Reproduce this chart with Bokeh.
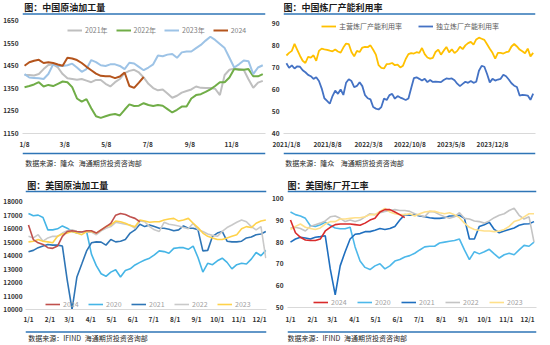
from bokeh.plotting import figure
from bokeh.models import Range1d, FixedTicker, Legend, LegendItem, Label, Span
from bokeh.layouts import column, row
from bokeh.embed import file_html
from bokeh.resources import INLINE
import numpy as np
import pandas as pd

# ---------------- data ----------------
# China crude runs (weekly, 10k t) by year
tl_2021 = [1409,1409,1407,1413,1435,1453,1456,1442,1413,1394,1391,1388,1391,1384,1377,1387,1387,1370,1358,1377,
           1391,1417,1427,1432,1420,1398,1370,1351,1341,1345,1327,1308,1317,1331,1338,1345,1358,1352,1351,1351,
           1348,1320,1409,1432,1437,1435,1432,1390,1352,1375,1383]
tl_2022 = [1355,1360,1367,1377,1358,1365,1360,1370,1380,1377,1355,1305,1291,1302,1262,1226,1219,1226,1233,1236,
           1230,1255,1279,1272,1273,1284,1276,1272,1276,1273,1258,1243,1255,1269,1269,1305,1320,1324,1334,1345,
           1360,1377,1377,1398,1435,1432,1432,1435,1403,1403,1413]
tl_2023 = [1413,1398,1396,1394,1391,1413,1456,1449,1449,1452,1459,1442,1423,1435,1475,1466,1452,1449,1456,1456,
           1449,1435,1463,1460,1445,1430,1442,1456,1495,1492,1499,1502,1485,1509,1513,1513,1528,1542,1561,1578,
           1564,1546,1528,1485,1442,1456,1473,1470,1413,1442,1452]
tl_2024 = [1450,1465,1472,1476,1462,1465,1462,1455,1450,1485,1482,1475,1462,1445,1430,1415,1405,1403,1403,1395,
           1402,1420,1360,1352,1375,1400]
tl_tick_days = [7, 66, 127, 188, 250, 311]
tl_tick_labels = ["1/8", "3/8", "5/8", "7/8", "9/8", "11/8"]

# China refinery utilisation (%), biweekly from 2021-01-08
tr_start = "2021-01-08"
tr_main = [75.4,76.6,77.5,80.7,78.0,75.3,73.0,72.0,74.8,74.4,75.5,73.0,77.5,78.5,78.2,78.0,77.6,77.3,78.1,77.2,
           76.7,79.0,80.8,80.6,77.0,75.0,77.5,77.0,79.0,79.3,79.2,80.0,78.0,75.8,71.0,69.8,69.5,71.5,71.6,72.0,
           71.0,71.3,70.0,70.8,73.8,76.0,76.5,76.3,76.9,76.6,78.8,76.0,74.5,74.0,74.3,77.0,78.1,75.8,77.6,79.3,
           76.8,78.2,76.5,77.5,79.4,78.3,80.0,81.0,81.6,80.3,82.7,83.5,83.0,82.5,80.5,78.5,76.6,74.0,76.6,76.6,
           76.3,76.9,77.2,79.5,80.6,79.5,78.1,77.3,76.4,78.5,75.0,76.6]
tr_ind = [71.9,69.8,70.9,69.5,70.5,70.3,68.7,67.8,66.6,66.0,64.8,65.5,63.8,60.5,56.0,54.8,53.5,57.0,59.5,58.0,
          60.0,57.5,63.0,64.6,63.8,61.0,61.6,63.3,61.5,57.4,56.0,55.5,52.0,51.3,50.9,52.0,55.9,55.2,57.4,58.0,
          55.8,57.0,56.3,55.8,55.2,55.9,60.5,65.1,65.5,64.8,64.0,64.8,63.3,64.3,63.4,63.5,63.4,63.3,64.3,65.0,
          64.8,65.0,64.2,62.6,61.5,62.5,63.5,63.0,63.8,63.0,63.5,68.5,70.7,70.3,67.0,63.2,64.8,64.0,64.5,64.8,
          66.7,66.0,64.5,62.8,61.7,61.1,57.2,57.5,57.4,57.2,55.3,58.1]
tr_tick_dates = ["2021-01-08", "2021-08-08", "2022-03-08", "2022-10-08", "2023-05-08", "2023-12-08"]
tr_tick_labels = ["2021/1/8", "2021/8/8", "2022/3/8", "2022/10/8", "2023/5/8", "2023/12/8"]

# US crude runs (kb/d), weekly by year
bl_2020 = [17108,16940,16990,16820,15900,15900,15975,16190,16025,15780,15660,15735,15780,14100,13250,12650,12460,12770,12940,12410,
           12890,13010,13300,13490,13660,13800,14050,14340,14290,14170,14530,14580,14580,14460,14700,13850,12770,13420,13320,13610,
           13800,13490,13010,13320,13420,13370,13730,14220,13980,14380]
bl_2021 = [14270,14380,14580,14700,14820,14770,14770,14700,12170,10000,12410,13370,14340,14940,15010,14990,14770,15180,15010,15060,
           15180,15660,15900,16310,16140,16260,16140,16020,16020,15950,15830,15900,16190,16020,16020,15900,14340,14380,15420,15660,
           15780,15060,15010,15010,15060,15300,15370,15540,15590,15780]
bl_2022 = [15420,15300,15540,15060,15300,15420,15420,15660,15830,15900,15780,15735,15735,15735,15540,15830,16020,16140,16460,16390,
           16310,16260,16020,16550,16500,16140,15900,15780,16460,16310,16260,16190,16070,15975,16390,15900,15780,15590,15490,15420,
           15780,16070,16260,16460,16630,16500,16140,15900,16140,13800]
bl_2023 = [15010,15060,15180,15060,15010,14940,15420,15590,15660,15780,15660,15540,15780,15780,15660,15900,16140,16260,16550,16500,
           16390,16220,16140,16630,16550,16460,16500,16500,16630,16700,16750,16550,16630,16750,16390,16070,15660,15420,15300,15180,
           15180,15300,15420,15540,15975,16140,16070,16390,16550,16630]
bl_2024 = [16260,15180,14940,14820,14580,14530,14700,15420,15780,15830,15780,15735,15830,15830,15660,15900,16140,16380,16990,17110,
           17040,16870,16750,16500]

# US refinery utilisation (%), weekly by year
br_2020 = [93.8,92.6,92.0,90.9,87.5,87.2,88.0,89.1,87.7,86.5,86.1,86.1,86.8,77.8,71.3,68.4,67.4,69.1,70.1,67.7,
           69.1,71.3,72.0,73.2,73.8,74.9,76.4,77.8,78.1,78.1,79.6,80.0,80.4,80.7,81.4,76.4,72.0,75.6,74.6,75.6,
           76.7,74.6,72.7,74.2,74.9,74.2,76.4,78.5,78.1,80.0]
br_2021 = [80.0,81.4,82.2,81.9,81.4,82.2,82.5,82.9,67.7,55.8,69.1,75.6,81.4,83.6,83.9,84.8,84.8,85.4,86.2,85.8,
           86.2,87.2,90.1,92.6,92.3,92.6,92.0,91.6,91.2,90.9,90.9,91.2,92.0,92.0,92.3,90.9,81.4,81.4,87.2,88.0,
           89.1,85.8,84.3,85.1,85.8,86.5,87.7,88.3,88.4,89.4]
br_2022 = [86.5,86.8,86.2,85.1,87.2,88.0,88.7,89.7,91.6,92.0,90.9,89.4,90.1,89.4,90.1,91.6,93.0,92.6,93.5,94.1,
           94.5,94.9,94.5,94.5,94.1,93.0,92.3,91.6,94.1,93.8,92.6,91.6,90.9,91.6,93.5,90.9,90.6,89.7,89.4,88.7,
           89.7,91.2,92.3,93.0,94.5,95.5,92.3,90.6,91.6,80.0]
br_2023 = [85.8,87.2,88.3,86.8,86.2,85.8,86.5,88.3,89.4,89.4,90.6,90.6,90.9,91.2,91.2,91.6,92.6,92.6,94.1,95.5,
           93.8,93.0,92.6,92.6,93.0,92.0,93.0,93.8,94.1,94.1,93.5,93.0,93.5,92.6,91.2,88.7,86.8,85.8,85.4,85.1,
           85.1,84.8,85.1,85.8,87.2,89.4,90.1,91.6,93.0,93.0]
br_2024 = [90.1,84.3,82.2,81.0,80.7,80.7,81.4,85.1,86.8,88.0,88.3,88.3,88.3,88.0,87.7,88.7,90.1,90.9,93.8,94.9,
           94.9,93.8,92.6,91.2]

us_tick_days = [0, 31, 59, 90, 120, 151, 181, 212, 243, 273, 304, 334]
us_tick_labels = ["1/1", "2/1", "3/1", "4/1", "5/1", "6/1", "7/1", "8/1", "9/1", "10/1", "11/1", "12/1"]

# ---------------- styling helpers ----------------
CJK = "Noto Sans CJK SC"
RULE = "#2E75B6"


def strip(width, height, rule_y, labels):
    p = figure(width=width, height=height, x_range=Range1d(0, width), y_range=Range1d(height, 0),
               x_axis_type=None, y_axis_type=None, toolbar_location=None, output_backend="svg",
               min_border_left=0, min_border_right=0, min_border_top=0, min_border_bottom=0)
    p.outline_line_color = None
    p.background_fill_color = "white"
    p.add_layout(Span(location=rule_y, dimension="width", line_color=RULE, line_width=1.6))
    for (x, y, txt, size, bold) in labels:
        p.add_layout(Label(x=x, y=y, text=txt, text_font=CJK, text_font_size=size,
                           text_font_style="bold" if bold else "normal", text_baseline="middle",
                           text_color="#1a1a1a" if bold else "#262626"))
    return p


def main_fig(width, height, xr, yr, borders, yticks, xticks, xlabels, xstand=5, ystand=4):
    l, r, t, b = borders
    p = figure(width=width, height=height, x_range=Range1d(*xr), y_range=Range1d(*yr),
               toolbar_location=None, output_backend="svg",
               min_border_left=l, min_border_right=r, min_border_top=t, min_border_bottom=b)
    p.outline_line_color = None
    p.grid.visible = False
    p.yaxis.axis_line_color = None
    p.xaxis.axis_line_color = "#D9D9D9"
    for ax in (p.xaxis[0], p.yaxis[0]):
        ax.major_tick_line_color = None
        ax.minor_tick_line_color = None
        ax.major_tick_out = 0
        ax.major_tick_in = 0
        ax.minor_tick_out = 0
        ax.minor_tick_in = 0
        ax.major_label_text_font = CJK
        ax.major_label_text_font_size = "6.5px"
        ax.major_label_text_font_style = "bold"
        ax.major_label_text_color = "#333333"
    p.yaxis.ticker = FixedTicker(ticks=yticks)
    p.yaxis.major_label_standoff = ystand
    p.xaxis.ticker = FixedTicker(ticks=xticks)
    p.xaxis.major_label_overrides = {k: v for k, v in zip(xticks, xlabels)}
    p.xaxis.major_label_standoff = xstand
    return p


def add_legend(p, items, loc, spacing, color="#808080"):
    leg = Legend(items=[LegendItem(label=lab, renderers=[rr]) for lab, rr in items],
                 orientation="horizontal", location=loc, border_line_color=None,
                 background_fill_alpha=0, padding=0, margin=0, spacing=spacing,
                 glyph_width=15, glyph_height=6, label_height=6, label_standoff=3,
                 label_text_font=CJK, label_text_font_size="7px", label_text_color=color)
    p.add_layout(leg)


# ---------------- top-left: China crude runs ----------------
tl_x_full = list(range(7, 7 + 7 * len(tl_2021), 7))
tl_x_24 = tl_x_full[:len(tl_2024)]
tl = main_fig(268, 135, (4, 361), (1150, 1650), (22, 3, 4, 15),
              [1150, 1250, 1350, 1450, 1550, 1650], tl_tick_days, tl_tick_labels)
r21 = tl.line(tl_x_full, tl_2021, line_color="#BFBFBF", line_width=2)
r22 = tl.line(tl_x_full, tl_2022, line_color="#70AD47", line_width=2)
r23 = tl.line(tl_x_full, tl_2023, line_color="#9DC3E6", line_width=2)
r24 = tl.line(tl_x_24, tl_2024, line_color="#B4541C", line_width=2)
add_legend(tl, [("2021年", r21), ("2022年", r22), ("2023年", r23), ("2024", r24)], (45, 98), 8)

# ---------------- top-right: China utilisation ----------------
tr_dates = pd.date_range(tr_start, periods=len(tr_main), freq="14D")
tr_x = [(d - tr_dates[0]).days for d in tr_dates]
tr_ticks = [(pd.Timestamp(d) - tr_dates[0]).days for d in tr_tick_dates]
tr = main_fig(282, 135, (-15, 1286), (40, 93.1), (14, 15, 0, 15),
              [40, 50, 60, 70, 80, 90], tr_ticks, tr_tick_labels)
rm = tr.line(tr_x, tr_main, line_color="#FFC000", line_width=1.8)
ri = tr.line(tr_x, tr_ind, line_color="#4472C4", line_width=1.8)
add_legend(tr, [("主营炼厂产能利用率", rm), ("独立炼厂产能利用率", ri)], (38, 102), 16, "#595959")

# ---------------- bottom-left: US crude runs ----------------
us_x = list(range(0, 7 * len(bl_2020), 7))
us_x_24 = us_x[:len(bl_2024)]
bl = main_fig(268, 133, (-4.3, 344), (10000, 18000), (22, 2, 8, 14),
              list(range(10000, 18001, 1000)), us_tick_days, us_tick_labels, xstand=4, ystand=3)
b20 = bl.line(us_x, bl_2020, line_color="#45B5E6", line_width=1.6)
b21 = bl.line(us_x, bl_2021, line_color="#2E75B6", line_width=1.6)
b22 = bl.line(us_x, bl_2022, line_color="#C9C9C9", line_width=1.6)
b23 = bl.line(us_x, bl_2023, line_color="#FFD24A", line_width=1.6)
b24 = bl.line(us_x_24, bl_2024, line_color="#C0504D", line_width=1.6)
add_legend(bl, [("2024", b24), ("2020", b20), ("2021", b21), ("2022", b22), ("2023", b23)], (20, 0), 5, "#A0A0A0")

# ---------------- bottom-right: US utilisation ----------------
br = main_fig(282, 133, (-4.2, 346.5), (50, 100), (19, 14, 5, 13),
              [50, 60, 70, 80, 90, 100], us_tick_days, us_tick_labels, xstand=6)
c20 = br.line(us_x, br_2020, line_color="#4DB8EA", line_width=1.6)
c21 = br.line(us_x, br_2021, line_color="#1F6FBF", line_width=1.6)
c22 = br.line(us_x, br_2022, line_color="#C4C4C4", line_width=1.6)
c23 = br.line(us_x, br_2023, line_color="#FFE08A", line_width=1.6)
c24 = br.line(us_x_24, br_2024, line_color="#D92B2B", line_width=1.6)
add_legend(br, [("2024", c24), ("2020", c20), ("2021", c21), ("2022", c22), ("2023", c23)], (26, 0), 6, "#A0A0A0")

# ---------------- headers / footers ----------------
tl_head = strip(268, 16, 13.5, [(2, 7, "图：中国原油加工量", "9px", True)])
tr_head = strip(282, 16, 13.5, [(0, 7, "图：中国炼厂产能利用率", "9px", True)])
tl_foot = strip(268, 21, 2, [(3, 11, "数据来源：隆众", "7px", False), (62, 11, "海通期货投资咨询部", "7px", False)])
tr_foot = strip(282, 21, 2, [(2, 11, "数据来源：隆众", "7px", False), (64, 11, "海通期货投资咨询部", "7px", False)])
bl_head = strip(268, 21, 19, [(2, 12.7, "图：美国原油加工量", "9px", True)])
br_head = strip(282, 21, 19, [(0, 12.7, "图：美国炼厂开工率", "9px", True)])
bl_foot = strip(268, 19, 5.5, [(3, 11.5, "数据来源：IFIND", "7px", False), (66, 11.5, "海通期货投资咨询部", "7px", False)])
br_foot = strip(282, 19, 5.5, [(0, 11.5, "数据来源：IFIND", "7px", False), (64, 11.5, "海通期货投资咨询部", "7px", False)])

layout = column(
    row(column(tl_head, tl, tl_foot), column(tr_head, tr, tr_foot)),
    row(column(bl_head, bl, bl_foot), column(br_head, br, br_foot)),
)

open("out.html", "w").write(file_html(layout, INLINE))
